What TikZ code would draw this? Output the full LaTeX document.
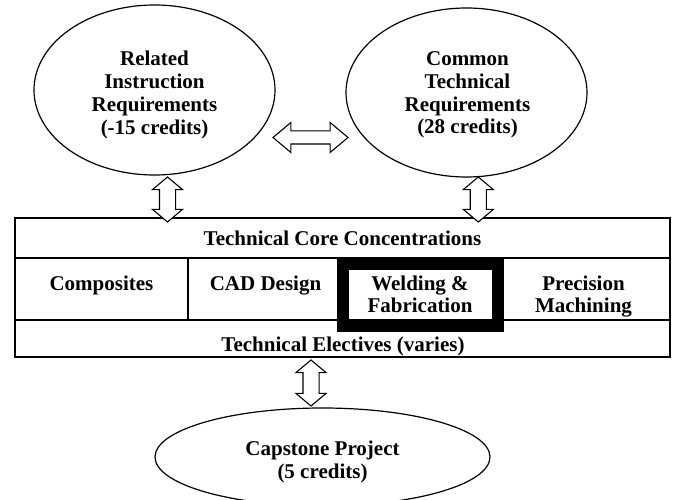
\documentclass[tikz,border=0pt]{standalone}
\usepackage{fontspec}
\setmainfont{Liberation Serif}
\usetikzlibrary{shapes.geometric,shapes.arrows}
\tikzset{
  >=latex,
  bubble/.style={ellipse,draw,line width=1.2pt,inner sep=0pt},
  lbl/.style={font=\fontsize{21}{22.7}\selectfont\bfseries,align=center,inner sep=0pt},
  fatarrow/.style={double arrow,draw,fill=white,line width=1.1pt,inner sep=0pt,
    text height=7.5pt,text depth=7.5pt,double arrow head extend=7pt,double arrow tip angle=100},
}

\begin{document}
\begin{tikzpicture}[x=1pt,y=1pt]
    \useasboundingbox (0,0) rectangle (675,499);
    \node[bubble,minimum width=241pt,minimum height=170pt] (relinst) at (154.5,409) {};
    \node[bubble,minimum width=241pt,minimum height=169pt] (comtech) at (466.5,406.5) {};
    \node[bubble,minimum width=335pt,minimum height=98pt] (capstone) at (322.5,42) {};
    \node[lbl] (relinsttxt) at (154.5,404) {Related\\Instruction\\Requirements\\(-15 credits)};
    \node[lbl] (comtechtxt) at (467.5,404) {Common\\Technical\\Requirements\\(28 credits)};
    \node[lbl] (capstonetxt) at (322.5,37) {Capstone Project\\(5 credits)};
    \begin{scope}[line width=1.5pt]
      \draw (15,142) rectangle (670,281);
      \draw (15,241)--(670,241);
      \draw (15,179)--(670,179);
      \draw (188,241)--(188,179);
    \end{scope}
    \draw[line width=12pt] (343,173) rectangle (497.5,235);
    \begin{scope}[every node/.style={lbl,anchor=base}]
      \node (core) at (342.5,254) {Technical Core Concentrations};
      \node (composites) at (101.5,209) {Composites};
      \node (cad) at (265.5,209) {CAD Design};
      \node (electives) at (343,147.5) {Technical Electives (varies)};
    \end{scope}
    \node[lbl] (welding) at (420,204.6) {Welding \&\\Fabrication};
    \node[lbl] (precision) at (583.5,202.4) {Precision\\Machining};
    \node[fatarrow,minimum height=75pt,text height=6pt,text depth=6pt,double arrow head extend=8.5pt,double arrow tip angle=80] (arrtop) at (310.5,361.5) {};
    \node[fatarrow,minimum height=45pt,rotate=90] (arrleft) at (167.5,299.5) {};
    \node[fatarrow,minimum height=45pt,rotate=90] (arrright) at (478.3,299.5) {};
    \node[fatarrow,minimum height=46pt,rotate=90] (arrbottom) at (311,116) {};
\end{tikzpicture}
\end{document}
